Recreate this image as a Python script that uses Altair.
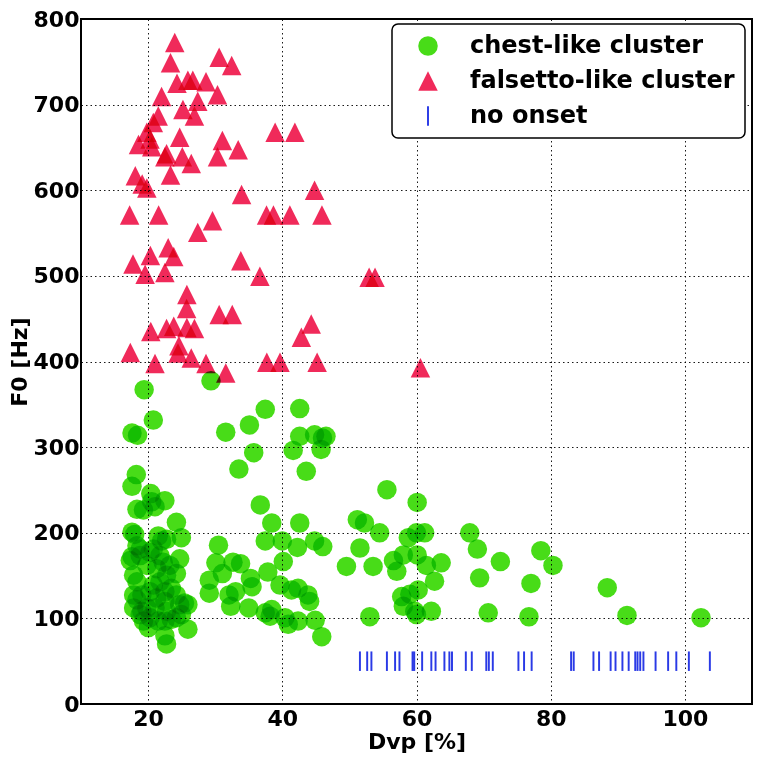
import altair as alt
import pandas as pd

# ---- data ----
chest_dvp = [
    19.41, 20.78, 17.6, 18.43, 29.37, 31.57, 35.1, 37.46, 35.74, 33.53,
    42.6, 42.6, 44.81, 45.99, 46.51, 45.78, 41.62, 43.57, 18.24, 17.6,
    20.4, 22.5, 18.34, 19.31, 21.03, 24.22, 24.96, 17.6, 24.71, 24.22,
    25.93, 25.93, 22.75, 22.5, 20.04, 18.82, 17.35, 17.84,
    20.54, 18.0, 21.51, 22.01, 17.6, 18.82, 19.81, 17.84, 18.34, 21.76,
    22.75, 18.34, 19.07, 23.46, 24.2, 25.43, 19.07, 19.81, 21.03, 22.75,
    19.31, 22.5, 23.46, 21.76, 21.28, 20.29, 20.78, 20.29, 24.22, 24.96,
    18.34, 18.82, 20.78, 22.75, 22.25, 23.24, 17.84, 21.51, 20.29, 21.28,
    22.5, 24.71, 22.5,
    30.49, 30.1, 29.12, 29.12, 31.07, 32.65, 33.78, 32.06, 32.31, 33.04,
    35.25, 35.49, 35.0, 36.72, 38.43, 37.46, 40.0, 37.84, 40.15, 42.6,
    42.25, 44.81, 46.03, 39.66, 41.37, 42.35, 43.82, 44.07, 37.46, 38.43,
    38.19, 40.4, 40.88, 42.35, 44.9, 45.88,
    51.18, 52.25, 51.57, 49.56, 53.04, 53.53, 54.51, 55.59, 60.1, 58.78,
    60.0, 61.22, 67.94, 56.57, 57.06, 58.04, 60.1, 61.47, 63.68, 62.69,
    69.07, 72.5, 78.53, 80.34, 69.41, 77.06, 88.43, 57.79, 59.01, 60.25,
    58.04, 59.75, 60.0, 62.21, 70.69, 76.76, 91.37, 102.4,
]
chest_f0 = [
    367.1, 331.6, 316.4, 313.8, 377.4, 317.5, 325.9, 344.2, 293.5, 274.4,
    345.0, 312.6, 314.4, 310.7, 312.6, 297.3, 296.1, 271.7, 268.0, 254.2,
    245.7, 237.4, 227.4, 226.7, 230.5, 212.2, 194.2, 200.7, 169.5, 152.3,
    116.0, 87.4, 70.2, 79.7, 89.3, 104.5, 167.5, 127.4,
    236.2, 198.0, 196.2, 190.4, 172.0, 173.3, 161.8, 150.4, 142.7, 142.7,
    150.4, 121.7, 127.4, 135.1, 127.4, 117.9, 108.3, 112.2, 112.2, 108.3,
    96.9, 96.9, 98.8, 173.3, 158.0, 177.0, 138.9, 131.2, 100.8, 104.5,
    184.7, 180.9, 180.9, 192.4, 165.6, 161.8, 112.2, 96.9, 100.8, 123.7,
    119.8, 116.0, 131.2,
    185.5, 164.9, 144.6, 129.4, 152.3, 165.6, 163.8, 127.4, 114.1, 131.2,
    146.6, 137.0, 112.2, 232.5, 211.4, 190.4, 190.4, 154.1, 166.4, 211.4,
    182.8, 190.4, 183.9, 138.9, 133.2, 135.1, 127.4, 119.8, 106.5, 110.3,
    102.6, 100.8, 93.1, 96.9, 97.7, 78.6,
    215.3, 211.4, 182.2, 160.7, 102.0, 160.7, 199.9, 250.3, 235.4, 194.2,
    199.9, 199.9, 199.9, 167.5, 154.9, 174.1, 174.1, 161.8, 164.9, 143.5,
    180.9, 166.4, 179.0, 161.8, 147.3, 140.8, 135.8, 125.5, 128.3, 133.2,
    114.1, 108.3, 104.5, 108.3, 106.5, 101.9, 103.4, 100.8,
]

falsetto_dvp = [
    23.97, 23.34, 30.59, 32.46, 24.31, 25.93, 26.66, 28.63, 22.01, 30.34,
    27.4, 25.19, 26.91, 21.51, 20.78, 19.81, 18.57, 20.29, 20.54, 24.71,
    22.75, 22.5, 25.1, 26.43, 31.07, 30.34, 33.43, 23.34, 18.09, 19.81,
    19.12, 38.93, 41.87, 33.93, 44.81, 17.25, 21.57, 29.6, 27.4, 37.65,
    38.68, 41.13, 45.91, 20.34, 22.99, 23.82, 17.75, 19.56, 22.5, 33.82,
    36.66, 52.94, 53.82, 25.78, 25.74, 30.59, 32.54, 44.31, 42.84, 20.4,
    22.75, 23.82, 25.78, 26.91, 24.6, 24.46, 26.43, 17.35, 21.03, 28.63,
    31.57, 37.69, 39.66, 45.19, 60.59,
]
falsetto_f0 = [
    772.5, 748.9, 755.3, 745.8, 724.9, 728.6, 728.6, 726.7, 709.5, 711.5,
    703.8, 694.3, 686.6, 686.6, 679.0, 667.6, 653.4, 659.9, 650.8, 661.9,
    642.7, 639.0, 639.0, 631.3, 658.0, 639.0, 647.3, 617.9, 616.8, 602.7,
    607.3, 667.6, 667.6, 595.0, 600.0, 571.2, 571.2, 564.5, 550.8, 571.2,
    571.2, 571.2, 571.2, 523.7, 532.8, 522.5, 513.9, 501.9, 503.8, 517.7,
    499.6, 498.5, 498.5, 478.2, 461.8, 455.0, 455.0, 443.8, 428.4, 434.9,
    438.6, 441.2, 439.7, 438.6, 418.3, 409.9, 404.2, 410.6, 397.7, 397.7,
    386.6, 399.2, 399.2, 399.2, 392.8,
]

no_onset_dvp = [
    51.57, 52.65, 53.28, 55.59, 56.81, 57.46, 59.41, 59.66, 60.84, 62.21,
    62.84, 64.16, 64.9, 65.29, 67.35, 68.24, 70.4, 70.78, 71.37, 75.19,
    76.03, 77.16, 83.04, 83.43, 86.37, 87.21, 88.93, 89.66, 90.69, 91.62,
    92.6, 92.94, 93.34, 93.82, 95.63, 97.5, 98.72, 100.59, 103.72,
]
NO_ONSET_F0 = 50

groups = ["chest-like cluster", "falsetto-like cluster", "no onset"]
group_colors = ["#48dc18", "#f02a5a", "#2a3ae6"]
group_shapes = ["circle", "M0,-1L1,1L-1,1Z", "M-0.1,-1L0.1,-1L0.1,1L-0.1,1Z"]

rows = []
for x, y in zip(chest_dvp, chest_f0):
    rows.append({"Dvp": x, "F0": y, "group": groups[0]})
for x, y in zip(falsetto_dvp, falsetto_f0):
    rows.append({"Dvp": x, "F0": y, "group": groups[1]})
for x in no_onset_dvp:
    rows.append({"Dvp": x, "F0": NO_ONSET_F0, "group": groups[2]})
df = pd.DataFrame(rows)

FONT = "DejaVu Sans"

legend = alt.Legend(
    title=None,
    orient="none",
    legendX=311,
    legendY=5,
    fillColor="white",
    strokeColor="black",
    padding=10,
    rowPadding=11,
    symbolSize=380,
    symbolOffset=14,
    labelOffset=30,
    labelFont=FONT,
    labelFontSize=24,
    labelFontWeight="bold",
    labelColor="black",
    labelLimit=400,
)

chart = (
    alt.Chart(df)
    .mark_point(filled=True, size=380, opacity=1, blend="multiply")
    .encode(
        x=alt.X(
            "Dvp:Q",
            scale=alt.Scale(domain=[10, 110], nice=False, zero=False),
            axis=alt.Axis(values=[20, 40, 60, 80, 100], title="Dvp [%]",
                          labelPadding=4, titlePadding=2),
        ),
        y=alt.Y(
            "F0:Q",
            scale=alt.Scale(domain=[0, 800], nice=False),
            axis=alt.Axis(values=[0, 100, 200, 300, 400, 500, 600, 700, 800],
                          title="F0 [Hz]", labelPadding=2, titlePadding=2),
        ),
        color=alt.Color("group:N", scale=alt.Scale(domain=groups, range=group_colors),
                        legend=legend),
        shape=alt.Shape("group:N", scale=alt.Scale(domain=groups, range=group_shapes),
                        legend=legend),
    )
    .properties(
        width=671,
        height=685,
        autosize=alt.AutoSizeParams(type="none"),
        padding={"left": 73, "top": 11, "right": 2, "bottom": 50},
    )
    .configure_view(stroke="black", strokeWidth=2)
    .configure_legend(strokeWidth=1.5, cornerRadius=6)
    .configure_axis(
        domain=False,
        ticks=False,
        grid=True,
        gridColor="black",
        gridDash=[1.5, 3],
        gridWidth=1,
        gridOpacity=0.9,
        labelFont=FONT,
        labelFontSize=22,
        labelFontWeight="bold",
        labelColor="black",
        labelFlush=False,
        titleFont=FONT,
        titleFontSize=22,
        titleFontWeight="bold",
        titleColor="black",
    )
)

chart.save("out.html", embed_options={"renderer": "svg", "actions": False})
